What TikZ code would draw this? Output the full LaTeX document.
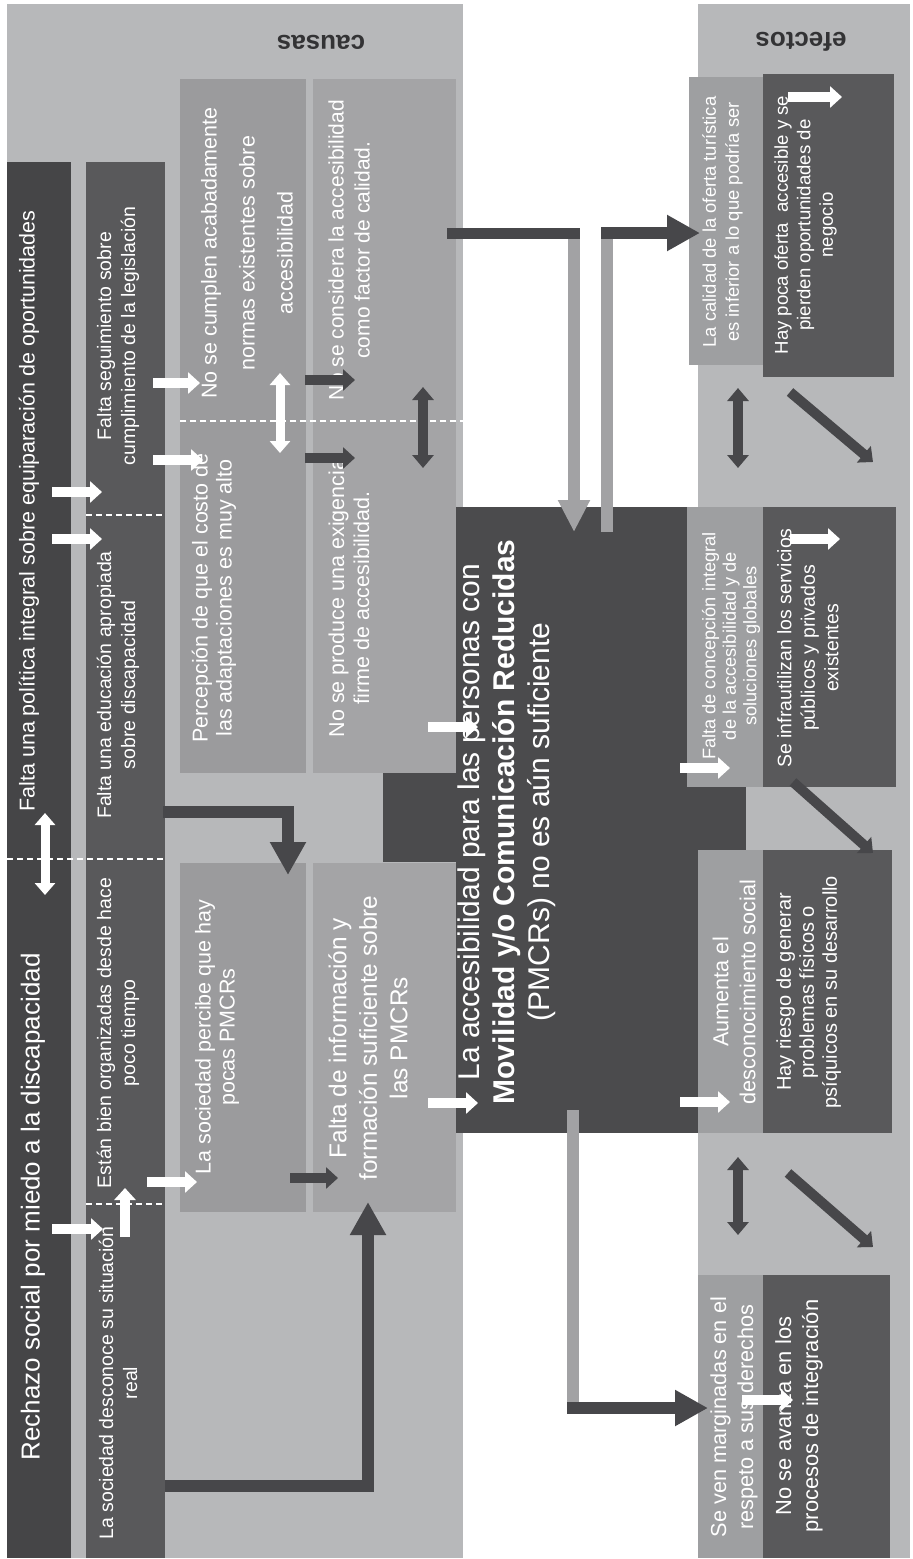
\documentclass[tikz,border=0pt]{standalone}
\usepackage{fontspec}
\setmainfont{Liberation Sans}
\usetikzlibrary{arrows.meta}
\definecolor{panelbg}{HTML}{B7B8BA}
\definecolor{colA}{HTML}{454547}
\definecolor{colB}{HTML}{59595B}
\definecolor{colC}{HTML}{9B9B9D}
\definecolor{colD}{HTML}{A4A4A6}
\definecolor{centre}{HTML}{4B4B4D}
\definecolor{effL}{HTML}{9E9FA1}
\definecolor{effD}{HTML}{59595B}
\definecolor{arrD}{HTML}{47474A}
\definecolor{arrG}{HTML}{A2A2A4}
\definecolor{lbl}{HTML}{333335}
\newcommand\myfs[2]{\fontsize{#1pt}{#2pt}\selectfont}
\newcommand\bx[6]{\node[box,fill=#2,minimum width={(#5-#3)*1pt},minimum height={(#6-#4)*1pt}] (#1) at (#3,#4) {};}
\newcommand\conn[4]{\coordinate (#2s) at (#3); \coordinate (#2e) at (#4); \draw[#1] (#2s) -- (#2e);}
\begin{document}
\begin{tikzpicture}[x=1pt,y=-1pt,
  box/.style={inner sep=0pt,outer sep=0pt,anchor=north west,draw=none},
  txt/.style={rotate=90,align=center,text=white,inner sep=0pt},
  ttl/.style={rotate=180,text=lbl,inner sep=0pt,font=\bfseries\myfs{26}{30}},
  sepline/.style={draw=white,line width=1.6pt,dash pattern=on 6pt off 4pt},
  warr/.style={draw=white,line width=10pt,-{Triangle[length=12pt,width=21pt]}},
  wdbl/.style={draw=white,line width=9pt,{Triangle[length=12pt,width=20pt]}-{Triangle[length=12pt,width=20pt]}},
  darr/.style={draw=arrD,line width=10pt,-{Triangle[length=12pt,width=21pt]}},
  ddbl/.style={draw=arrD,line width=10pt,{Triangle[length=13pt,width=21pt]}-{Triangle[length=13pt,width=21pt]}},
  bigd/.style={draw=arrD,line width=12pt,line join=miter,-{Triangle[length=33pt,width=34pt]}},
  bard/.style={draw=arrD,line width=11pt},
  garr/.style={draw=arrG,line width=12pt,-{Triangle[length=32pt,width=30pt]}},
  gbar/.style={draw=arrG,line width=12pt}]
\useasboundingbox (0,0) rectangle (913,1559);
\fill[white] (0,0) rectangle (913,1559);
% panels
\bx{pc}{panelbg}{7}{4}{463}{1558}
\bx{pe}{panelbg}{698}{4}{910}{1558}
\node[ttl] (causas) at (321,42) {causas};
\node[ttl] (efectos) at (801,42) {efectos};
% cause columns
\bx{c1}{colA}{7}{162}{71}{1558}
\bx{c2}{colB}{86}{162}{165}{1558}
\bx{c3u}{colC}{180}{79}{306}{773}
\bx{c4u}{colD}{313}{79}{456}{773}
\bx{c3l}{colC}{180}{863}{306}{1212}
\bx{c4l}{colD}{313}{863}{456}{1212}
% centre
\bx{cen}{centre}{456}{507}{698}{1133}
\bx{cenL}{centre}{383}{773}{456}{862}
\bx{cenR}{centre}{698}{787}{746}{850}
% effects
\bx{e1l}{effL}{689}{77}{763}{365}
\bx{e1d}{effD}{763}{74}{894}{377}
\bx{e2l}{effL}{687}{507}{763}{787}
\bx{e2d}{effD}{763}{507}{896}{787}
\bx{e3l}{effL}{698}{850}{763}{1133}
\bx{e3d}{effD}{763}{850}{892}{1133}
\bx{e4l}{effL}{698}{1275}{763}{1558}
\bx{e4d}{effD}{763}{1275}{890}{1558}
% dashed separators
\conn{sepline}{d1}{7,859}{165,859}
\conn{sepline}{d2}{86,515}{162,515}
\conn{sepline}{d3}{86,1204}{162,1204}
\conn{sepline}{d4}{180,421}{463,421}
% texts: column 1
\node[txt,font=\myfs{26}{30}] (t1) at (33,1207) {Rechazo social por miedo a la discapacidad};
\node[txt,font=\myfs{21.5}{25}] (t2) at (29,511) {Falta una política integral sobre equiparación de oportunidades};
% column 2
\node[txt,font=\myfs{19.5}{24}] (t3) at (118,336) {Falta seguimiento sobre\\cumplimiento de la legislación};
\node[txt,font=\myfs{19.5}{24}] (t4) at (118,685) {Falta una educación apropiada\\sobre discapacidad};
\node[txt,font=\myfs{19.5}{24}] (t5) at (118,1033) {Están bien organizadas desde hace\\poco tiempo};
\node[txt,font=\myfs{19.5}{24}] (t6) at (118,1383) {La sociedad desconoce su situación\\real};
% column 3 / 4
\node[txt,font=\myfs{21.5}{38}] (t7) at (247,253) {No se cumplen acabadamente\\normas existentes sobre\\accesibilidad};
\node[txt,font=\myfs{21.5}{24}] (t8) at (214,598) {Percepción de que el costo de\\las adaptaciones es muy alto};
\node[txt,font=\myfs{21}{26}] (t9) at (349,250) {No se considera la accesibilidad\\como factor de calidad.};
\node[txt,font=\myfs{21.5}{25}] (t10) at (349,598) {No se produce una exigencia\\firme de accesibilidad.};
\node[txt,font=\myfs{21.5}{24}] (t11) at (217,1037) {La sociedad percibe que hay\\pocas PMCRs};
\node[txt,font=\myfs{24.4}{30.5}] (t12) at (368,1038) {Falta de información y\\formación suficiente sobre\\las PMCRs};
% centre text
\node[txt,font=\myfs{30}{35}] (tc) at (507,822) {La accesibilidad para las personas con\\\textbf{Movilidad y/o Comunicación Reducidas}\\(PMCRs) no es aún suficiente};
% effects texts
\node[txt,font=\myfs{18.4}{23}] (te1) at (722.5,222) {La calidad de la oferta turística\\es inferior a lo que podría ser};
\node[txt,font=\myfs{18.6}{22.5}] (te2) at (805.5,225) {Hay poca oferta\ \ accesible y se\\pierden oportunidades de\\negocio};
\node[txt,font=\myfs{18.2}{20.5}] (te3) at (731,646) {Falta de concepción integral\\de la accesibilidad y de\\soluciones globales};
\node[txt,font=\myfs{19.5}{23.5}] (te4) at (808,648) {Se infrautilizan los servicios\\públicos y privados\\existentes};
\node[txt,font=\myfs{21.7}{27}] (te5) at (734,992) {Aumenta el\\desconocimiento social};
\node[txt,font=\myfs{20}{23}] (te6) at (808.6,992) {Hay riesgo de generar\\problemas físicos o\\psíquicos en su desarrollo};
\node[txt,font=\myfs{21.7}{27}] (te7) at (734,1417) {Se ven marginadas en el\\respeto a sus derechos};
\node[txt,font=\myfs{21.9}{27}] (te8) at (799,1416) {No se avanza en los\\procesos de integración};
% white arrows (causes)
\conn{warr}{w1}{153,383}{200,383}
\conn{warr}{w2}{153,460}{203,460}
\conn{warr}{w3}{52,492}{102,492}
\conn{warr}{w4}{52,539}{102,539}
\conn{warr}{w5}{147,1182}{197,1182}
\conn{warr}{w6}{52,1229}{103,1229}
\conn{warr}{w7}{125,1237}{125,1188}
\conn{warr}{w8}{428,727}{478,727}
\conn{warr}{w9}{428,1103}{478,1103}
\conn{wdbl}{w10}{45,813}{45,895}
\conn{wdbl}{w11}{280,373}{280,453}
% white arrows (effects)
\conn{warr}{w12}{680,768}{730,768}
\conn{warr}{w13}{680,1102}{730,1102}
\conn{warr}{w14}{790,539}{840,539}
\conn{warr}{w15}{788,97}{842,97}
\conn{warr}{w16}{742,1400}{793,1400}
% dark small arrows
\conn{darr}{a1}{305,380}{355,380}
\conn{darr}{a2}{305,458}{355,458}
\conn{darr}{a3}{290,1178}{338,1178}
\conn{ddbl}{a4}{423,387}{423,468}
\conn{ddbl}{a5}{738,388}{738,468}
\conn{ddbl}{a6}{738,1157}{738,1235}
\conn{darr}{a7}{790,392}{873,462}
\conn{darr}{a8}{793,782}{873,853}
\conn{darr}{a9}{788,1173}{873,1247}
% elbow arrows
\coordinate (b1s) at (163,812); \coordinate (b1e) at (288,875);
\draw[bigd] (b1s) -| (b1e);
\coordinate (b2s) at (165,1486); \coordinate (b2e) at (368,1202);
\draw[bigd] (b2s) -| (b2e);
% connectors centre
\coordinate (g1) at (447,233); \coordinate (g2) at (580,233);
\coordinate (g3) at (574,228); \coordinate (g4) at (574,532);
\draw[garr] (g3) -- (g4);
\draw[bard] (g1) -- (g2);
\coordinate (h1) at (607,532); \coordinate (h2) at (607,228);
\coordinate (h3) at (601,233); \coordinate (h4) at (700,233);
\draw[gbar] (h1) -- (h2);
\draw[bigd] (h3) -- (h4);
\coordinate (i1) at (573,1110); \coordinate (i2) at (573,1414);
\coordinate (i3) at (567,1408); \coordinate (i4) at (708,1408);
\draw[gbar] (i1) -- (i2);
\draw[bigd] (i3) -- (i4);
\end{tikzpicture}
\end{document}
